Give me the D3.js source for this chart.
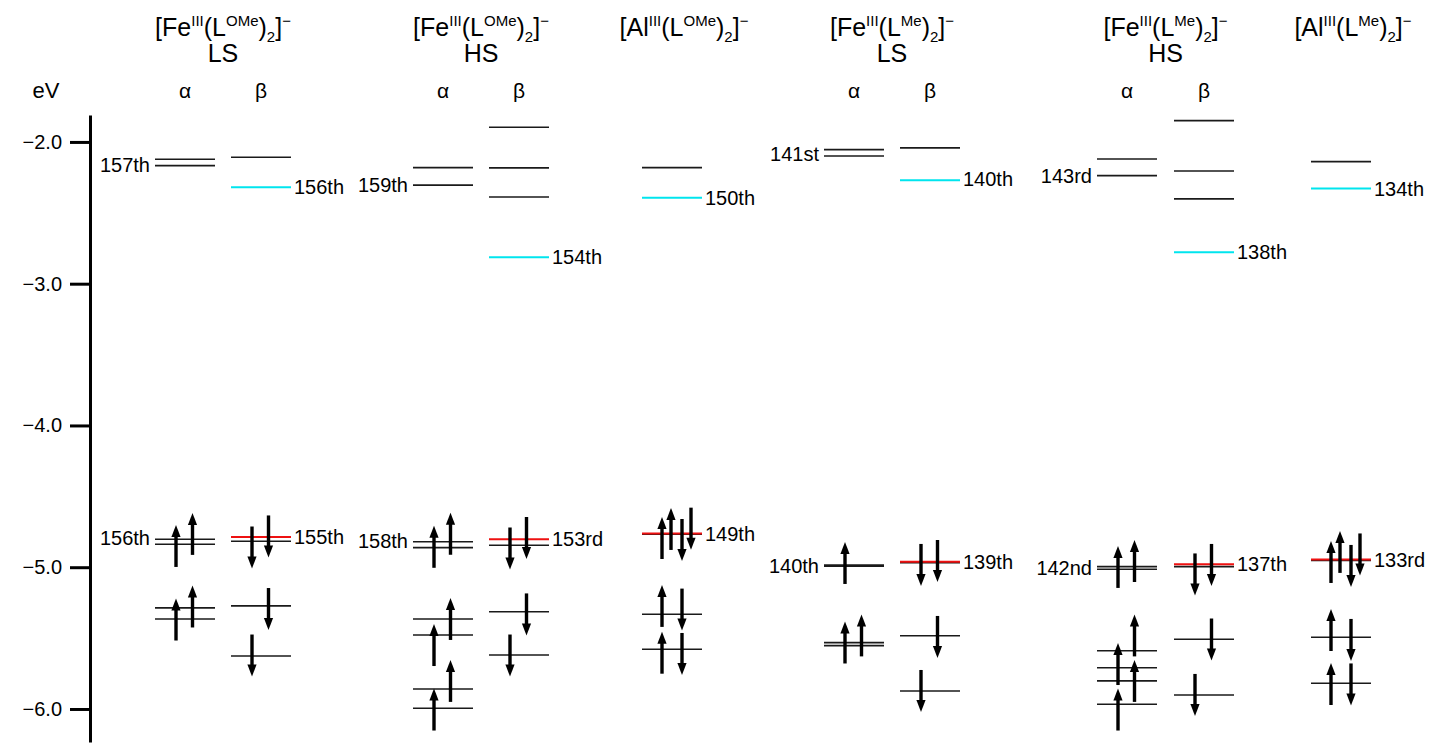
<!DOCTYPE html>
<html>
<head>
<meta charset="utf-8">
<script src="https://cdn.jsdelivr.net/npm/d3@7"></script>
<style>
  body { margin: 0; background: #fff; }
  svg text { font-family: "Liberation Sans", Arial, sans-serif; fill: #000; }
</style>
</head>
<body>
<svg id="chart" width="1434" height="751"></svg>
<script>
// sub-columns: a = alpha manifold, b = beta manifold, bare number = closed-shell Al complex
const subColumns = ["1a", "1b", "2a", "2b", "3", "4a", "4b", "5a", "5b", "6"];

// complexes (titles are built from text parts: "" normal, "sup", "sub")
const titles = [
  [["[Fe", ""], ["III", "sup"], ["(L", ""], ["OMe", "sup"], [")", ""], ["2", "sub"], ["]", ""], ["−", "sup"]],
  [["[Fe", ""], ["III", "sup"], ["(L", ""], ["OMe", "sup"], [")", ""], ["2", "sub"], ["]", ""], ["−", "sup"]],
  [["[Al", ""], ["III", "sup"], ["(L", ""], ["OMe", "sup"], [")", ""], ["2", "sub"], ["]", ""], ["−", "sup"]],
  [["[Fe", ""], ["III", "sup"], ["(L", ""], ["Me", "sup"], [")", ""], ["2", "sub"], ["]", ""], ["−", "sup"]],
  [["[Fe", ""], ["III", "sup"], ["(L", ""], ["Me", "sup"], [")", ""], ["2", "sub"], ["]", ""], ["−", "sup"]],
  [["[Al", ""], ["III", "sup"], ["(L", ""], ["Me", "sup"], [")", ""], ["2", "sub"], ["]", ""], ["−", "sup"]]
];
const spinStates = ["LS", "HS", "", "LS", "HS", ""];

// orbital energies in eV: [energy, kind]  (homo = red, lumo = cyan)
const levels1a = [[-2.122, "plain"], [-2.167, "plain"], [-4.803, "plain"], [-4.838, "plain"], [-5.287, "plain"], [-5.365, "plain"]];
const levels1b = [[-2.108, "plain"], [-2.320, "lumo"], [-4.817, "plain"], [-4.787, "homo"], [-5.273, "plain"], [-5.626, "plain"]];
const levels2a = [[-2.181, "plain"], [-2.305, "plain"], [-4.820, "plain"], [-4.862, "plain"], [-5.365, "plain"], [-5.478, "plain"], [-5.859, "plain"], [-5.995, "plain"]];
const levels2b = [[-1.896, "plain"], [-2.183, "plain"], [-2.388, "plain"], [-2.813, "lumo"], [-4.845, "plain"], [-4.803, "homo"], [-5.314, "plain"], [-5.619, "plain"]];
const levels3  = [[-2.181, "plain"], [-2.393, "lumo"], [-4.768, "plain"], [-4.762, "homo"], [-5.332, "plain"], [-5.579, "plain"]];
const levels4a = [[-2.054, "plain"], [-2.099, "plain"], [-4.985, "plain"], [-4.993, "plain"], [-5.532, "plain"], [-5.553, "plain"]];
const levels4b = [[-2.042, "plain"], [-2.270, "lumo"], [-4.968, "plain"], [-4.962, "homo"], [-5.483, "plain"], [-5.873, "plain"]];
const levels5a = [[-2.120, "plain"], [-2.238, "plain"], [-4.996, "plain"], [-5.014, "plain"], [-5.589, "plain"], [-5.709, "plain"], [-5.802, "plain"], [-5.967, "plain"]];
const levels5b = [[-1.850, "plain"], [-2.205, "plain"], [-2.402, "plain"], [-2.778, "lumo"], [-4.996, "plain"], [-4.979, "homo"], [-5.508, "plain"], [-5.901, "plain"]];
const levels6  = [[-2.139, "plain"], [-2.329, "lumo"], [-4.952, "plain"], [-4.946, "homo"], [-5.494, "plain"], [-5.819, "plain"]];

// electrons: [centre energy in eV, slot, spin direction]
const arrows1a = [[-4.850, 0, "up"], [-4.765, 1, "up"], [-5.369, 0, "up"], [-5.277, 1, "up"]];
const arrows1b = [[-4.861, 0, "down"], [-4.783, 1, "down"], [-5.295, 1, "down"], [-5.623, 0, "down"]];
const arrows2a = [[-4.856, 0, "up"], [-4.764, 1, "up"], [-5.549, 0, "up"], [-5.365, 1, "up"], [-6.004, 0, "up"], [-5.802, 1, "up"]];
const arrows2b = [[-4.868, 0, "down"], [-4.794, 1, "down"], [-5.333, 1, "down"], [-5.623, 0, "down"]];
const arrows3  = [[-4.794, 0, "up"], [-4.730, 1, "up"], [-4.808, 2, "down"], [-4.728, 3, "down"],
                  [-5.273, 0, "up"], [-5.299, 2, "down"], [-5.603, 0, "up"], [-5.612, 2, "down"]];
const arrows4a = [[-4.970, 0, "up"], [-5.531, 0, "up"], [-5.481, 1, "up"]];
const arrows4b = [[-4.984, 0, "down"], [-4.956, 1, "down"], [-5.492, 1, "down"], [-5.873, 0, "down"]];
const arrows5a = [[-4.998, 0, "up"], [-4.956, 1, "up"], [-5.683, 0, "up"], [-5.481, 1, "up"], [-5.802, 1, "up"], [-6.004, 0, "up"]];
const arrows5b = [[-5.051, 0, "down"], [-4.984, 1, "down"], [-5.510, 1, "down"], [-5.901, 0, "down"]];
const arrows6  = [[-4.963, 0, "up"], [-4.892, 1, "up"], [-4.991, 2, "down"], [-4.910, 3, "down"],
                  [-5.443, 0, "up"], [-5.513, 2, "down"], [-5.824, 0, "up"], [-5.827, 2, "down"]];

// orbital number labels: [sub-column, energy, text, side]
const orbitalLabels = [
  ["1a", -2.160, "157th", "left"], ["1a", -4.795, "156th", "left"],
  ["1b", -2.320, "156th", "right"], ["1b", -4.787, "155th", "right"],
  ["2a", -2.305, "159th", "left"], ["2a", -4.815, "158th", "left"],
  ["2b", -2.813, "154th", "right"], ["2b", -4.803, "153rd", "right"],
  ["3", -2.393, "150th", "right"], ["3", -4.765, "149th", "right"],
  ["4a", -2.083, "141st", "left"], ["4a", -4.989, "140th", "left"],
  ["4b", -2.262, "140th", "right"], ["4b", -4.965, "139th", "right"],
  ["5a", -2.240, "143rd", "left"], ["5a", -5.005, "142nd", "left"],
  ["5b", -2.778, "138th", "right"], ["5b", -4.979, "137th", "right"],
  ["6", -2.329, "134th", "right"], ["6", -4.949, "133rd", "right"]
];

const yTicks = [-2, -3, -4, -5, -6];

// ---- layout ----
const levelSets = [levels1a, levels1b, levels2a, levels2b, levels3, levels4a, levels4b, levels5a, levels5b, levels6];
const arrowSets = [arrows1a, arrows1b, arrows2a, arrows2b, arrows3, arrows4a, arrows4b, arrows5a, arrows5b, arrows6];
const colStart = new Map(d3.zip(subColumns, [155, 231, 413, 489, 642, 824, 900, 1097, 1174, 1311]));
const levelW = 60;
const splitSlots = [21, 37.5];
const closedSlots = [20, 29, 40, 49];
const isClosed = c => !/[ab]$/.test(c);

const levelData = subColumns.flatMap((c, i) => levelSets[i].map(([e, kind]) => ({ c, e, kind })));
const arrowData = subColumns.flatMap((c, i) => arrowSets[i].map(([e, slot, dir]) => ({ c, e, slot, dir })));

const svg = d3.select("#chart");
const y = d3.scaleLinear().domain([-6.233, -1.810]).range([742, 115]);

// axis
const axisG = svg.append("g")
  .attr("transform", "translate(90,0)")
  .call(d3.axisLeft(y).tickValues(yTicks).tickFormat(d3.format(".1f"))
    .tickSize(20).tickSizeOuter(0).tickPadding(8));
axisG.select(".domain").attr("stroke", "#000").attr("stroke-width", 3);
axisG.selectAll(".tick line").attr("stroke", "#000").attr("stroke-width", 3);
axisG.selectAll(".tick text").attr("font-size", 20).attr("font-family", "Liberation Sans, Arial, sans-serif").attr("fill", "#000");

svg.append("text").attr("x", 46).attr("y", 98).attr("text-anchor", "middle")
  .attr("font-size", 22).text("eV");

// energy levels (homo / lumo drawn on top)
const colour = { plain: "#1a1a1a", homo: "#ee1111", lumo: "#00e5ee" };
const order = { plain: 0, lumo: 1, homo: 2 };
svg.append("g").selectAll("line")
  .data(levelData.sort((a, b) => order[a.kind] - order[b.kind]))
  .join("line")
  .attr("x1", d => colStart.get(d.c))
  .attr("x2", d => colStart.get(d.c) + levelW)
  .attr("y1", d => y(d.e))
  .attr("y2", d => y(d.e))
  .attr("stroke", d => colour[d.kind])
  .attr("stroke-width", d => d.kind === "plain" ? 1.6 : 2);

// electrons
const half = 21, headL = 12, headW = 4.6;
const arrowG = svg.append("g").selectAll("g").data(arrowData).join("g")
  .attr("transform", d => {
    const x = colStart.get(d.c) + (isClosed(d.c) ? closedSlots : splitSlots)[d.slot];
    return `translate(${x},${y(d.e)})`;
  });
arrowG.append("line")
  .attr("y1", d => d.dir === "up" ? half : -half)
  .attr("y2", d => d.dir === "up" ? -half + headL - 1 : half - headL + 1)
  .attr("stroke", "#000").attr("stroke-width", 3.4);
arrowG.append("path")
  .attr("d", d => {
    const s = d.dir === "up" ? 1 : -1;
    return `M0,${-s * half} L${-headW},${-s * (half - headL)} L${headW},${-s * (half - headL)} Z`;
  })
  .attr("fill", "#000");

// orbital number labels
svg.append("g").selectAll("text").data(orbitalLabels).join("text")
  .attr("x", d => d[3] === "left" ? colStart.get(d[0]) - 5 : colStart.get(d[0]) + levelW + 3)
  .attr("y", d => y(d[1]))
  .attr("dy", "0.36em")
  .attr("text-anchor", d => d[3] === "left" ? "end" : "start")
  .attr("font-size", 20)
  .text(d => d[2]);

// column headers
const complexCentre = [0, 1, 2, 3, 4, 5].map(k => {
  const cols = subColumns.filter(c => c.startsWith(String(k + 1)));
  const xs = cols.map(c => colStart.get(c) + levelW / 2);
  return d3.mean(xs) + (cols.length === 1 ? 12 : 0);
});

titles.forEach((parts, k) => {
  const t = svg.append("text")
    .attr("x", complexCentre[k]).attr("y", 36)
    .attr("text-anchor", "middle").attr("font-size", 25);
  let shift = 0;
  parts.forEach(([txt, mode]) => {
    const target = mode === "sup" ? -10 : mode === "sub" ? 6 : 0;
    t.append("tspan")
      .attr("dy", target - shift)
      .attr("font-size", mode ? 15 : 25)
      .text(txt);
    shift = target;
  });
});

svg.append("g").selectAll("text").data(spinStates).join("text")
  .attr("x", (d, k) => complexCentre[k]).attr("y", 62)
  .attr("text-anchor", "middle").attr("font-size", 25)
  .text(d => d);

svg.append("g").selectAll("text")
  .data(subColumns.filter(c => !isClosed(c)))
  .join("text")
  .attr("x", c => colStart.get(c) + levelW / 2)
  .attr("y", 98)
  .attr("text-anchor", "middle").attr("font-size", 21)
  .text(c => c.endsWith("a") ? "α" : "β");
</script>
</body>
</html>
